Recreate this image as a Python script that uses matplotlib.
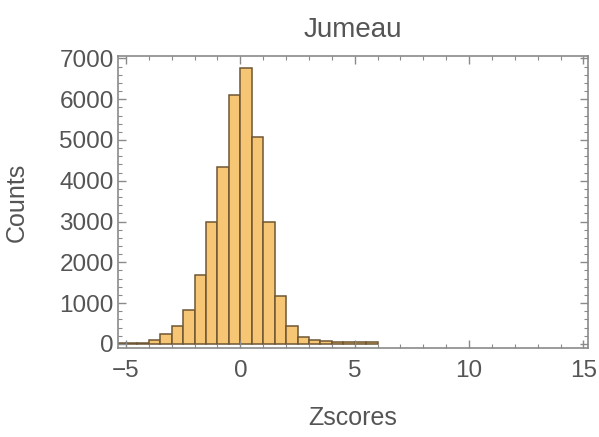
import numpy as np
import matplotlib.pyplot as plt
from matplotlib.ticker import MultipleLocator

#%% histogram data (bin edges in z-score units)
bin_edges = [-5.5, -5.0, -4.5, -4.0, -3.5, -3.0, -2.5, -2.0, -1.5, -1.0, -0.5,
             0.0, 0.5, 1.0, 1.5, 2.0, 2.5, 3.0, 3.5, 4.0, 4.5, 5.0, 5.5, 6.0]
counts = [15, 15, 15, 100, 240, 445, 825, 1690, 3000, 4330, 6105,
          6765, 5065, 3000, 1170, 430, 180, 100, 75, 35, 35, 35, 35]

title = "Jumeau"
xlabel = "Zscores"
ylabel = "Counts"

#%% style
face = "#f7c675"
edge = "#6e5634"
frame = "#8a8a8a"
txt = "#555555"
plt.rcParams['font.family'] = ['Liberation Sans', 'DejaVu Sans']

fig = plt.figure(figsize=(5.99, 4.37), dpi=100)
ax = fig.add_axes([0.197, 0.2037, 0.7846, 0.6682])

edges = np.array(bin_edges)
ax.bar(edges[:-1], counts, width=np.diff(edges), align='edge',
       color=face, edgecolor=edge, linewidth=1.1)

ax.set_xlim(-5.35, 15.2)
ax.set_ylim(-100, 7060)

ax.xaxis.set_major_locator(MultipleLocator(5))
ax.xaxis.set_minor_locator(MultipleLocator(1))
ax.yaxis.set_major_locator(MultipleLocator(1000))
ax.yaxis.set_minor_locator(MultipleLocator(200))
ax.tick_params(which='both', direction='in', top=True, right=True,
               color=frame, labelcolor=txt, labelsize=17.5)
ax.tick_params(which='major', length=6, width=1)
ax.tick_params(which='minor', length=3, width=0.8)
ax.tick_params(axis='x', which='major', pad=9)
ax.tick_params(axis='y', which='major', pad=3)
ax.xaxis.set_major_formatter(plt.FuncFormatter(lambda v, p: "%d" % v if v >= 0 else "\u2212%d" % -v))

for s in ax.spines.values():
    s.set_color(frame)
    s.set_linewidth(1.2)

ax.set_title(title, fontsize=20, color=txt, pad=14)
ax.set_xlabel(xlabel, fontsize=18, color=txt, labelpad=17)
ax.set_ylabel(ylabel, fontsize=18, color=txt, labelpad=22)

fig.savefig("out.png", dpi=100)
